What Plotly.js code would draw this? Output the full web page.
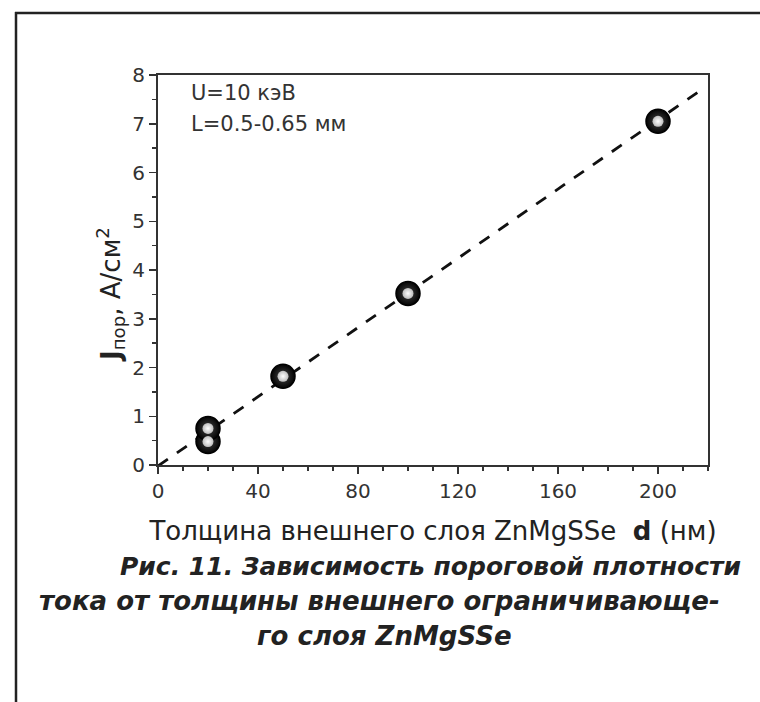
<!DOCTYPE html>
<html><head><meta charset="utf-8">
<script src="https://cdn.plot.ly/plotly-3.0.1.min.js"></script>
<style>body{margin:0;background:#fff}#plot{width:760px;height:702px}</style>
</head><body><div id="plot"></div>
<script>
const thickness = [20, 20, 50, 100, 200];
const currentDensity = [0.48, 0.75, 1.82, 3.52, 7.05];
const fitX = [0, 218];
const fitY = [-0.02, 7.72];
const xTicks = [0, 40, 80, 120, 160, 200];
const yTicks = [0, 1, 2, 3, 4, 5, 6, 7, 8];

const font = "DejaVu Sans, Liberation Sans, Arial, sans-serif";

const traces = [
  {x: fitX, y: fitY, mode: 'lines', line: {color: '#111', width: 2.8, dash: '12px,11px'}, hoverinfo: 'skip', showlegend: false},
  {x: thickness, y: currentDensity, mode: 'markers', showlegend: false,
   marker: {size: 24, color: '#030303', line: {color: '#000', width: 1.5},
            gradient: {type: 'radial', color: '#444444'}}},
  {x: thickness, y: currentDensity, mode: 'markers', showlegend: false,
   marker: {size: 11, color: '#bdbdbd', line: {width: 0},
            gradient: {type: 'radial', color: '#ffffff'}}}
];

function px2paperX(p){return (p-158)/550;}
function px2paperY(p){return 1-(p-75)/390;}

const layout = {
  width: 760, height: 702,
  margin: {l: 158, r: 52, t: 75, b: 237},
  paper_bgcolor: '#fff', plot_bgcolor: '#fff',
  font: {family: font, color: '#222'},
  showlegend: false,
  xaxis: {
    range: [0, 220], tickvals: xTicks, ticks: 'outside', ticklen: 7, tickwidth: 1.5, tickcolor: '#333',
    minor: {dtick: 10, tick0: 0, ticks: 'outside', ticklen: 4, tickwidth: 1.5, tickcolor: '#333'},
    showline: true, linecolor: '#333', linewidth: 2, mirror: true, showgrid: false, zeroline: false,
    tickfont: {size: 20, family: font, color: '#333'},
    title: {text: 'Толщина внешнего слоя ZnMgSSe  <b>d</b> (нм)', font: {size: 26, family: font, color: '#222'}, standoff: 20}
  },
  yaxis: {
    range: [0, 8], tickvals: yTicks, ticks: 'outside', ticklen: 7, tickwidth: 1.5, tickcolor: '#333',
    minor: {dtick: 0.5, tick0: 0, ticks: 'outside', ticklen: 4, tickwidth: 1.5, tickcolor: '#333'},
    showline: true, linecolor: '#333', linewidth: 2, mirror: true, showgrid: false, zeroline: false,
    tickfont: {size: 20, family: font, color: '#333'}
  },
  annotations: [
    {xref: 'paper', yref: 'paper', x: px2paperX(110), y: px2paperY(295), xanchor: 'center', yanchor: 'middle', textangle: -90,
     text: '<b>J</b><sub>пор</sub>, А/см<sup>2</sup>', showarrow: false, font: {size: 26, family: font, color: '#222'}},
    {xref: 'paper', yref: 'paper', x: px2paperX(189), y: px2paperY(93), xanchor: 'left', yanchor: 'middle',
     text: 'U=10 кэВ', showarrow: false, font: {size: 21, family: font, color: '#333'}},
    {xref: 'paper', yref: 'paper', x: px2paperX(189), y: px2paperY(124), xanchor: 'left', yanchor: 'middle',
     text: 'L=0.5-0.65 мм', showarrow: false, font: {size: 21, family: font, color: '#333'}},
    {xref: 'paper', yref: 'paper', x: px2paperX(430), y: px2paperY(566), xanchor: 'center', yanchor: 'middle',
     text: '<b><i>Рис. 11. Зависимость пороговой плотности</i></b>', showarrow: false, font: {size: 25, family: font, color: '#222'}},
    {xref: 'paper', yref: 'paper', x: px2paperX(379), y: px2paperY(601), xanchor: 'center', yanchor: 'middle',
     text: '<b><i>тока от толщины внешнего ограничивающе-</i></b>', showarrow: false, font: {size: 26, family: font, color: '#222'}},
    {xref: 'paper', yref: 'paper', x: px2paperX(384), y: px2paperY(636), xanchor: 'center', yanchor: 'middle',
     text: '<b><i>го слоя ZnMgSSe</i></b>', showarrow: false, font: {size: 26, family: font, color: '#222'}}
  ],
  shapes: [
    {type: 'line', xref: 'paper', yref: 'paper', x0: px2paperX(15), x1: px2paperX(760), y0: px2paperY(13), y1: px2paperY(13), line: {color: '#222', width: 2.5}},
    {type: 'line', xref: 'paper', yref: 'paper', x0: px2paperX(16), x1: px2paperX(16), y0: px2paperY(12), y1: px2paperY(702), line: {color: '#222', width: 2.5}}
  ]
};

Plotly.newPlot('plot', traces, layout, {displayModeBar: false, staticPlot: true});
</script></body></html>
